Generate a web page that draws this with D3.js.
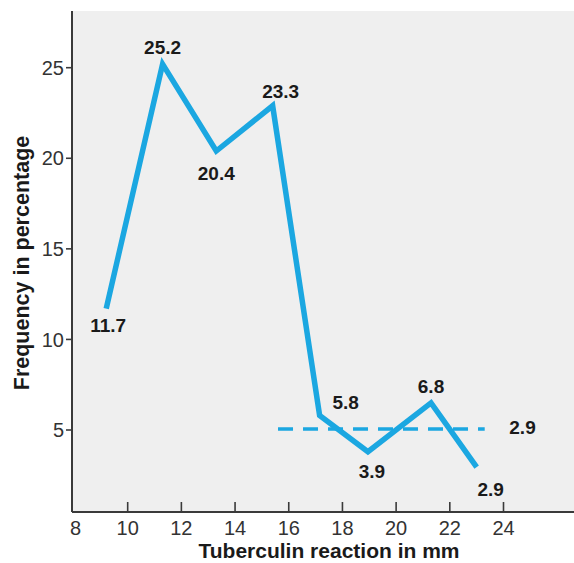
<!DOCTYPE html>
<html>
<head>
<meta charset="utf-8">
<script src="https://cdn.jsdelivr.net/npm/d3@7"></script>
<style>
  html, body { margin: 0; padding: 0; background: #ffffff; }
  svg { display: block; }
  text { font-family: "Liberation Sans", Arial, Helvetica, sans-serif; }
</style>
</head>
<body>
<script>
// ---- data ----
const reactionMm = [9.2, 11.3, 13.3, 15.4, 17.15, 18.95, 21.3, 23.0];
const frequencyPct = [11.7, 25.2, 20.4, 22.9, 5.8, 3.8, 6.5, 2.95];
const pointLabels = ["11.7", "25.2", "20.4", "23.3", "5.8", "3.9", "6.8", "2.9"];
const referenceX = [15.6, 23.3];
const referenceY = 5.05;
const referenceLabel = "2.9";
const xTicks = [8, 10, 12, 14, 16, 18, 20, 22, 24];
const yTicks = [5, 10, 15, 20, 25];
const xTitle = "Tuberculin reaction in mm";
const yTitle = "Frequency in percentage";

// ---- layout (pixel offsets for the value labels) ----
const labelDx = [2, 0, 0, 8, 26, 4, 0, 14];
const labelDy = [17, -17, 22, -15, -13, 19, -17, 22];

const W = 574, H = 563;
const plotLeft = 72, plotRight = 574, plotTop = 11, plotBottom = 512;
const blue = "#1ba7e1";
const axisColor = "#3a3a3a";

const svg = d3.select("body").append("svg").attr("width", W).attr("height", H);

const x = d3.scaleLinear().domain([8, 24]).range([74, 503.5]);
const y = d3.scaleLinear().domain([5, 25]).range([430, 67.7]);

// background
svg.append("rect")
  .attr("x", plotLeft).attr("y", plotTop)
  .attr("width", plotRight - plotLeft).attr("height", plotBottom - plotTop)
  .attr("fill", "#efefef");

// y axis
const yAxis = svg.append("g");
yAxis.append("line")
  .attr("x1", plotLeft).attr("x2", plotLeft)
  .attr("y1", plotTop).attr("y2", plotBottom)
  .attr("stroke", axisColor).attr("stroke-width", 2);
yAxis.selectAll("line.tick").data(yTicks).enter().append("line")
  .attr("class", "tick")
  .attr("x1", plotLeft - 6).attr("x2", plotLeft)
  .attr("y1", d => y(d)).attr("y2", d => y(d))
  .attr("stroke", axisColor).attr("stroke-width", 1.6);
yAxis.selectAll("text").data(yTicks).enter().append("text")
  .attr("x", plotLeft - 8)
  .attr("y", d => y(d))
  .attr("dy", "0.36em")
  .attr("text-anchor", "end")
  .attr("font-size", 20)
  .attr("fill", "#333")
  .text(d => d);

// x axis
const xAxis = svg.append("g");
xAxis.append("line")
  .attr("x1", plotLeft).attr("x2", plotRight)
  .attr("y1", plotBottom).attr("y2", plotBottom)
  .attr("stroke", axisColor).attr("stroke-width", 2);
xAxis.selectAll("line.tick").data(xTicks.filter(d => d > 8)).enter().append("line")
  .attr("class", "tick")
  .attr("x1", d => x(d)).attr("x2", d => x(d))
  .attr("y1", plotBottom - 10).attr("y2", plotBottom)
  .attr("stroke", axisColor).attr("stroke-width", 1.6);
xAxis.selectAll("text").data(xTicks).enter().append("text")
  .attr("x", d => x(d) + (d === 8 ? 1.5 : 0))
  .attr("y", plotBottom + 15.5)
  .attr("dy", "0.36em")
  .attr("text-anchor", "middle")
  .attr("font-size", 20)
  .attr("fill", "#333")
  .text(d => d);

// titles
svg.append("text")
  .attr("x", 329)
  .attr("y", 557.5)
  .attr("text-anchor", "middle")
  .attr("font-size", 21)
  .attr("font-weight", "bold")
  .attr("fill", "#1a1a1a")
  .text(xTitle);

svg.append("text")
  .attr("transform", `translate(21,263) rotate(-90)`)
  .attr("dy", "0.36em")
  .attr("text-anchor", "middle")
  .attr("font-size", 21.5)
  .attr("font-weight", "bold")
  .attr("fill", "#1a1a1a")
  .text(yTitle);

// reference dashed line
svg.append("line")
  .attr("x1", x(referenceX[0])).attr("x2", x(referenceX[1]))
  .attr("y1", y(referenceY)).attr("y2", y(referenceY))
  .attr("stroke", blue).attr("stroke-width", 3.5)
  .attr("stroke-dasharray", "15,10");
svg.append("text")
  .attr("x", 522.5)
  .attr("y", y(referenceY) - 2)
  .attr("dy", "0.36em")
  .attr("text-anchor", "middle")
  .attr("font-size", 19)
  .attr("font-weight", "bold")
  .attr("fill", "#1a1a1a")
  .text(referenceLabel);

// main line
const pts = reactionMm.map((d, i) => [d, frequencyPct[i]]);
svg.append("path")
  .datum(pts)
  .attr("fill", "none")
  .attr("stroke", blue)
  .attr("stroke-width", 5.5)
  .attr("stroke-linejoin", "miter")
  .attr("stroke-linecap", "butt")
  .attr("d", d3.line().x(d => x(d[0])).y(d => y(d[1])));

// value labels
svg.selectAll("text.val").data(pts).enter().append("text")
  .attr("class", "val")
  .attr("x", (d, i) => x(d[0]) + labelDx[i])
  .attr("y", (d, i) => y(d[1]) + labelDy[i])
  .attr("dy", "0.36em")
  .attr("text-anchor", "middle")
  .attr("font-size", 19)
  .attr("font-weight", "bold")
  .attr("fill", "#1a1a1a")
  .text((d, i) => pointLabels[i]);
</script>
</body>
</html>
